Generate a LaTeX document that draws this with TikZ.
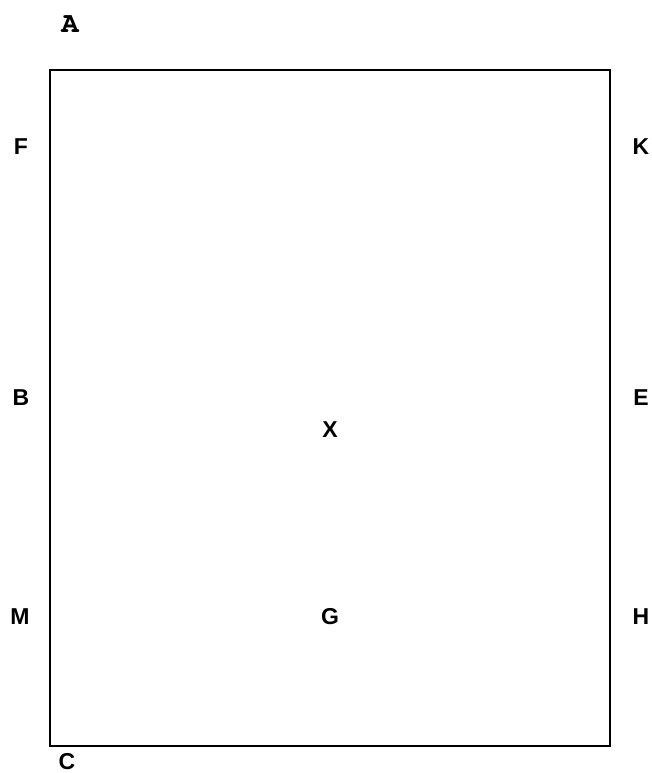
\documentclass[tikz,border=0pt]{standalone}
\usepackage{fontspec}
\setmainfont{Liberation Sans}
\newfontfamily\markfont{texgyrecursor-bold.otf}
\usetikzlibrary{positioning}

\begin{document}
\begin{tikzpicture}[
  x=1pt, y=-1pt,
  frame/.style={draw, line width=2pt},
  tag/.style={font=\bfseries\fontsize{23}{27}\selectfont, inner sep=0pt},
  marktag/.style={font=\markfont\fontsize{29}{33}\selectfont, inner sep=0pt}
]
\useasboundingbox (0,0) rectangle (652,773);

\coordinate (nw) at (50,70);
\coordinate (se) at (610,746);
\draw[frame] (nw) rectangle (se);

\node[marktag] (a) at (70,24) {A};
\node[tag] (f) at (21,147) {F};
\node[tag] (k) at (641,147) {K};
\node[tag] (b) at (21,398) {B};
\node[tag] (e) at (641,398) {E};
\node[tag] (x) at (330,430) {X};
\node[tag] (m) at (20,617) {M};
\node[tag] (g) at (330,617) {G};
\node[tag] (h) at (641,617) {H};
\node[tag] (c) at (67,761.5) {C};

\end{tikzpicture}
\end{document}
